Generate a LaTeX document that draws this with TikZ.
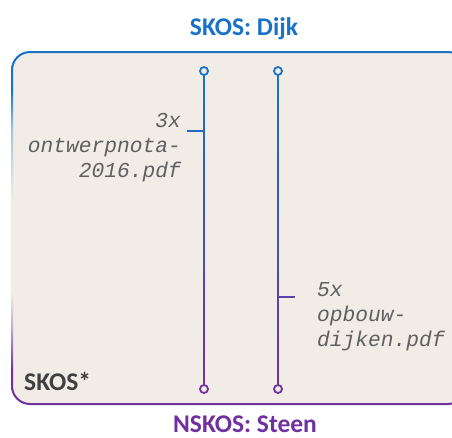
\documentclass[tikz,border=0pt]{standalone}
\usepackage{fontspec}
\setmainfont{Carlito}
\newfontfamily\filefont{Liberation Mono}
\definecolor{skosblue}{RGB}{24,115,199}
\definecolor{skospurple}{RGB}{112,48,160}
\definecolor{panel}{RGB}{241,237,230}
\definecolor{labelgray}{RGB}{96,96,96}
\definecolor{headgray}{RGB}{64,64,64}
\colorlet{rimblue}{skosblue!35!panel}
\colorlet{rimpurple}{skospurple!35!panel}
% rim of the panel: blue along the top, purple along the bottom, fading out on the sides
\pgfdeclareverticalshading{panelrim}{100bp}{color(0bp)=(skospurple); color(25bp)=(skospurple); color(30bp)=(skospurple); color(36bp)=(rimpurple); color(41bp)=(panel); color(54bp)=(panel); color(64bp)=(rimblue); color(69.5bp)=(skosblue); color(100bp)=(skosblue)}
\tikzset{
  endring/.style={circle, draw, line width=1.8pt, fill=panel, minimum size=8pt, inner sep=0pt},
  tickline/.style={line width=1.8pt},
  filelabel/.style={font=\filefont\itshape\fontsize{21.25}{25}\selectfont, text=labelgray, inner sep=0pt},
  headline/.style={font=\bfseries\fontsize{25.5}{30}\selectfont, inner sep=0pt},
}
\begin{document}
\begin{tikzpicture}[x=1pt, y=-1pt]
\useasboundingbox (0,0) rectangle (452,437);
\clip (0,0) rectangle (452,437);
% panel
\fill[panel, rounded corners=18pt] (12,52) rectangle (466,404);
\shade[shading=panelrim, even odd rule] [rounded corners=19pt] (11,51) rectangle (467,405) [rounded corners=17pt] (13,53) rectangle (465,403);
% headings
\node[headline, text=skosblue, anchor=base] (top) at (244,35) {SKOS: Dijk};
\node[headline, text=skospurple, anchor=base] (bottom) at (245,432) {NSKOS: Steen};
\node[headline, text=headgray, anchor=base west] (corner) at (24,390) {SKOS*};
% end points of the two links
\node[endring, draw=skosblue] (t1) at (204,71) {};
\node[endring, draw=skospurple] (b1) at (204,389) {};
\node[endring, draw=skosblue] (t2) at (278,71) {};
\node[endring, draw=skospurple] (b2) at (278,389) {};
% links, shaded from blue to purple
\shade[top color=skosblue, bottom color=skospurple] ([xshift=-0.9pt]t1.south) rectangle ([xshift=0.9pt]b1.north);
\shade[top color=skosblue, bottom color=skospurple] ([xshift=-0.9pt]t2.south) rectangle ([xshift=0.9pt]b2.north);
% label ticks
\coordinate (k1) at (204,131);
\coordinate (k1e) at (187,131);
\coordinate (k2) at (278,297);
\coordinate (k2e) at (295,297);
\draw[tickline, skospurple!18!skosblue] (k1) -- (k1e);
\draw[tickline, skospurple!72!skosblue] (k2) -- (k2e);
% labels (anchored on the baseline of their last line)
\node[filelabel, anchor=base east, align=right] (l1) at (181,177) {3x\\ontwerpnota-\\2016.pdf};
\node[filelabel, anchor=base west, align=left] (l2) at (317,346) {5x\\opbouw-\\dijken.pdf};
\end{tikzpicture}
\end{document}
